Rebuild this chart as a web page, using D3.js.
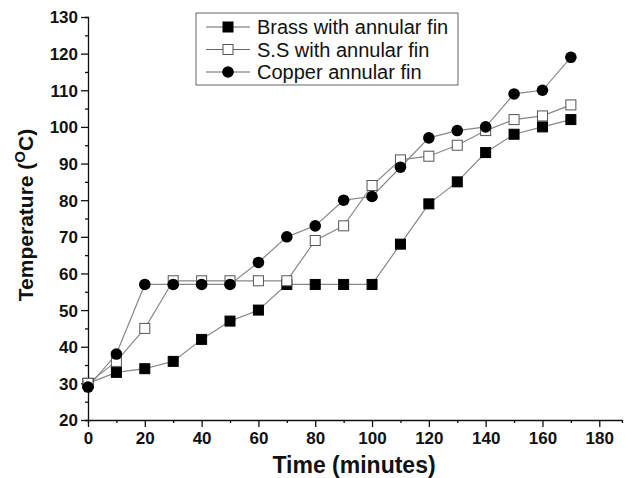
<!DOCTYPE html>
<html>
<head>
<meta charset="utf-8">
<script src="https://cdn.jsdelivr.net/npm/d3@7"></script>
<style>
  body { margin: 0; background: #fff; }
  svg text { font-family: "Liberation Sans", Arial, sans-serif; }
</style>
</head>
<body>
<svg id="chart" width="625" height="478"></svg>
<script>
// Time points (minutes)
const times = [0, 10, 20, 30, 40, 50, 60, 70, 80, 90, 100, 110, 120, 130, 140, 150, 160, 170];
// Temperatures (°C) per fin material
const brass  = [30, 33, 34, 36, 42, 47, 50, 57, 57, 57, 57, 68, 79, 85, 93, 98, 100, 102];
const ss     = [30, 36, 45, 58, 58, 58, 58, 58, 69, 73, 84, 91, 92, 95, 99, 102, 103, 106];
const copper = [29, 38, 57, 57, 57, 57, 63, 70, 73, 80, 81, 89, 97, 99, 100, 109, 110, 119];
const seriesNames = ["Brass with annular fin", "S.S with annular fin", "Copper annular fin"];
const xTicks = [0, 20, 40, 60, 80, 100, 120, 140, 160, 180];
const yTicks = [20, 30, 40, 50, 60, 70, 80, 90, 100, 110, 120, 130];

const svg = d3.select("#chart");
const x = d3.scaleLinear().domain([0, 188]).range([88, 622]);
const y = d3.scaleLinear().domain([20, 130]).range([420, 17]);

const series = [
  { name: seriesNames[0], values: brass, marker: "filledSquare" },
  { name: seriesNames[1], values: ss, marker: "openSquare" },
  { name: seriesNames[2], values: copper, marker: "circle" }
];

// Axes with minor ticks
const gx = svg.append("g").attr("transform", `translate(0,${y(20)})`);
gx.call(d3.axisBottom(x).tickValues(d3.range(0, 190, 10)).tickSize(3).tickFormat(""));
gx.call(g => g.selectAll(".tick").filter(d => xTicks.includes(d)).select("line").attr("y2", 7));
gx.selectAll(".tick").filter(d => xTicks.includes(d)).append("text")
  .attr("y", 24).attr("fill", "#111").attr("text-anchor", "middle")
  .style("font-size", "17px").style("font-weight", "bold").text(d => d);

const gy = svg.append("g").attr("transform", `translate(${x(0)},0)`);
gy.call(d3.axisLeft(y).tickValues(d3.range(20, 131, 5)).tickSize(3).tickFormat(""));
gy.call(g => g.selectAll(".tick").filter(d => yTicks.includes(d)).select("line").attr("x2", -7));
gy.selectAll(".tick").filter(d => yTicks.includes(d)).append("text")
  .attr("x", -10).attr("dy", "0.35em").attr("fill", "#111").attr("text-anchor", "end")
  .style("font-size", "17px").style("font-weight", "bold").text(d => d);

[gx, gy].forEach(g => {
  g.select(".domain").attr("stroke", "#111").attr("stroke-width", 1.3);
  g.selectAll(".tick line").attr("stroke", "#111").attr("stroke-width", 1.3);
});

// Axis titles
svg.append("text").attr("x", 354).attr("y", 473).attr("text-anchor", "middle")
  .style("font-size", "23px").style("font-weight", "bold").attr("fill", "#111")
  .text("Time (minutes)");
const yt = svg.append("text").attr("transform", "translate(33,215) rotate(-90)")
  .attr("text-anchor", "middle").style("font-size", "21px").style("font-weight", "bold").attr("fill", "#111");
yt.append("tspan").text("Temperature (");
yt.append("tspan").attr("dy", -8).style("font-size", "15px").text("O");
yt.append("tspan").attr("dy", 8).text("C)");

function drawMarker(g, type, cx, cy) {
  if (type === "circle") {
    g.append("circle").attr("cx", cx).attr("cy", cy).attr("r", 5.8).attr("fill", "#000");
  } else {
    g.append("rect").attr("x", cx - 5).attr("y", cy - 5).attr("width", 10).attr("height", 10)
      .attr("fill", type === "openSquare" ? "#fff" : "#000")
      .attr("stroke", type === "openSquare" ? "#555" : "#000").attr("stroke-width", 1);
  }
}

const line = d3.line().x((d, i) => x(times[i])).y(d => y(d));
series.forEach(s => {
  svg.append("path").datum(s.values).attr("d", line)
    .attr("fill", "none").attr("stroke", "#888").attr("stroke-width", 1.2);
});
series.forEach(s => {
  const g = svg.append("g");
  s.values.forEach((v, i) => drawMarker(g, s.marker, x(times[i]), y(v)));
});

// Legend
const lg = svg.append("g");
lg.append("rect").attr("x", 196).attr("y", 13).attr("width", 262).attr("height", 72)
  .attr("fill", "#fff").attr("stroke", "#666").attr("stroke-width", 1);
series.forEach((s, i) => {
  const cy = 27 + i * 22.5;
  lg.append("line").attr("x1", 206).attr("x2", 250).attr("y1", cy).attr("y2", cy)
    .attr("stroke", "#666").attr("stroke-width", 1.2);
  drawMarker(lg, s.marker, 228, cy);
  lg.append("text").attr("x", 257).attr("y", cy).attr("dy", "0.35em")
    .style("font-size", "20px").attr("fill", "#111").text(s.name);
});
</script>
</body>
</html>
